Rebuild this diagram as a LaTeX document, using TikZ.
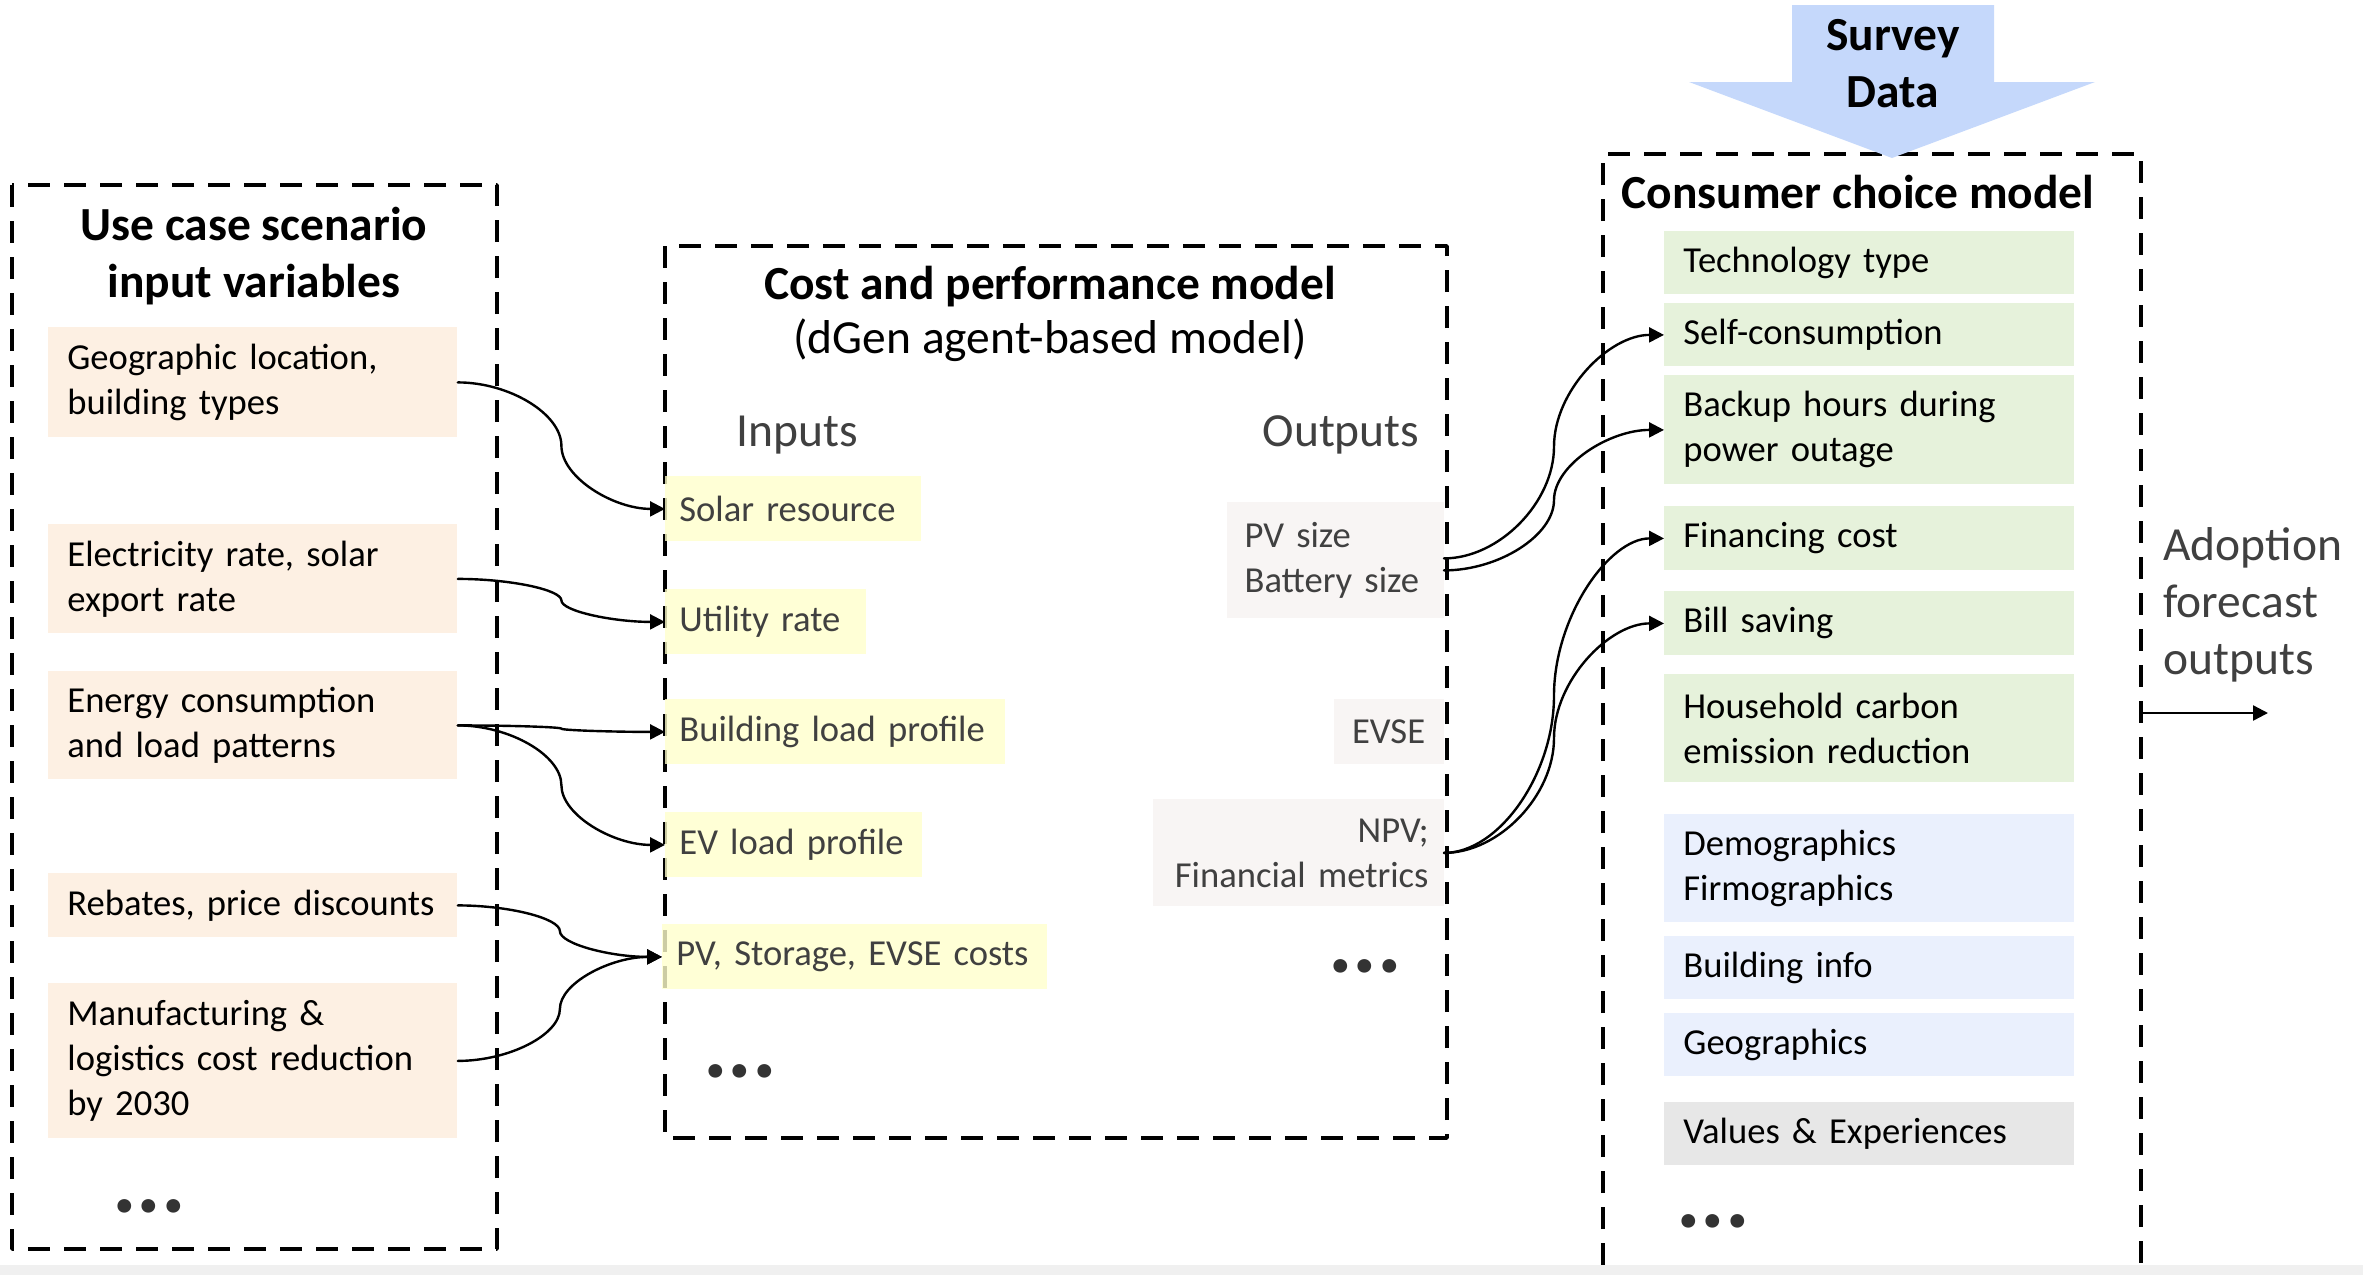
\documentclass[tikz,border=0pt]{standalone}
\usepackage{fontspec}
\setmainfont{Carlito}
\usepackage{tikz}
\usetikzlibrary{calc}
\usetikzlibrary{arrows.meta}
\definecolor{peach}{RGB}{253,240,227}
\definecolor{lemon}{RGB}{255,255,204}
\definecolor{outgray}{RGB}{248,245,244}
\definecolor{leaf}{RGB}{230,242,219}
\definecolor{sky}{RGB}{234,240,253}
\definecolor{ash}{RGB}{231,231,231}
\definecolor{survblue}{RGB}{197,216,251}
\definecolor{txtgray}{RGB}{64,64,64}
\definecolor{stripgray}{RGB}{240,240,240}
\newcommand{\bodyfont}{\fontsize{18.3}{22.5}\selectfont}
\newcommand{\headfont}{\fontsize{23.75}{28.5}\selectfont}
\newcommand{\dotfont}{\fontsize{46}{46}\selectfont\bfseries}
\tikzset{every node/.style={font=\bodyfont}}
\tikzset{
  dashbox/.style={line width=1.8pt,line cap=butt,dash pattern=on 11pt off 7pt},
  varbox/.style={anchor=north west,fill=peach,inner xsep=9.5pt,inner ysep=0pt,align=left,text width=185.5pt},
  inbox/.style={anchor=north west,fill=lemon,fill opacity=0.8,text opacity=1,text=txtgray,inner xsep=7pt,inner ysep=0pt,align=left,minimum height=32.5pt},
  outbox/.style={anchor=north east,fill=outgray,text=txtgray,inner ysep=0pt},
  choice/.style={anchor=north west,inner xsep=9.5pt,inner ysep=0pt,align=left,text width=186pt},
  head/.style={font=\headfont\bfseries,align=center,inner sep=0pt},
  moredots/.style={font=\dotfont,text=black!80,anchor=base,inner sep=0pt},
  link/.style={->,line width=1.2pt}
}

\begin{document}
\begin{tikzpicture}[line cap=round,line join=round,>={Triangle[length=7.5pt,width=7.5pt]},x=1pt,y=1pt,
  curvy/.style={to path={let \p1=(\tikztostart),\p2=(\tikztotarget) in
    .. controls ({(3*\x1+\x2)/4},\y1) and ({(\x1+\x2)/2},{(3*\y1+\y2)/4}) .. ({(\x1+\x2)/2},{(\y1+\y2)/2})
    .. controls ({(\x1+\x2)/2},{(\y1+3*\y2)/4}) and ({(\x1+3*\x2)/4},\y2) .. (\tikztotarget)}}]
\useasboundingbox (0,0) rectangle (1181.5,-637.5);

% scenario inputs
\draw[dashbox] (6,-92.5) rectangle (248.5,-624.5);
\node[head] (scenhead) at (127,-128.25) {Use case scenario\\input variables};
\node[varbox,minimum height=55pt] (geo) at (24,-163.5) {Geographic location,\\building types};
\node[varbox,minimum height=54.5pt] (elec) at (24,-262) {Electricity rate, solar\\export rate};
\node[varbox,minimum height=54pt] (energy) at (24,-335.5) {Energy consumption\\and load patterns};
\node[varbox,minimum height=32pt] (rebate) at (24,-436.5) {Rebates, price discounts};
\node[varbox,minimum height=77.5pt] (manuf) at (24,-491.5) {Manufacturing \&\\logistics cost reduction\\by 2030};
\node[moredots] (leftdots) at (74.5,-606) {...};

% dGen model
\draw[dashbox] (332.5,-123) rectangle (723.5,-569);
\node[head] (costhead) at (525,-157) {Cost and performance model\\[-1.5pt]\mdseries (dGen agent-based model)};
\node[font=\headfont,text=txtgray] (inlabel) at (398.5,-217.5) {Inputs};
\node[font=\headfont,text=txtgray] (outlabel) at (670.5,-217.5) {Outputs};
\node[inbox,text width=114pt] (solar) at (332.5,-238) {Solar resource};
\node[inbox,text width=86.5pt] (utility) at (332.5,-294.5) {Utility rate};
\node[inbox,text width=156pt] (bload) at (332.5,-349.5) {Building load profile};
\node[inbox,text width=114.5pt] (evload) at (332.5,-406) {EV load profile};
\node[inbox,text width=178.5pt] (costs) at (331,-462) {PV, Storage, EVSE costs};
\node[moredots] (indots) at (370,-538.5) {...};
\node[outbox,align=left,inner xsep=9pt,text width=90.5pt,minimum height=58pt] (sizes) at (722,-251) {PV size\\Battery size};
\node[outbox,minimum width=55pt,minimum height=32.5pt] (evse) at (722,-349.5) {EVSE};
\node[outbox,align=right,inner xsep=7.5pt,text width=130.5pt,minimum height=53.5pt] (npv) at (722,-399.5) {NPV;\hspace*{8pt}\\Financial metrics};
\node[moredots] (outdots) at (682.5,-486) {...};

% consumer choice
\draw[dashbox] (801.5,-632.5) -- (801.5,-77) -- (1070.5,-77) -- (1070.5,-632.5);
\node[head] (choicehead) at (929,-96) {Consumer choice model};
\node[choice,fill=leaf,minimum height=31.5pt] (tech) at (832,-115.5) {Technology type};
\node[choice,fill=leaf,minimum height=31.5pt] (selfcons) at (832,-151.5) {Self-consumption};
\node[choice,fill=leaf,minimum height=54.5pt] (backup) at (832,-187.5) {Backup hours during\\power outage};
\node[choice,fill=leaf,minimum height=32pt] (fincost) at (832,-253) {Financing cost};
\node[choice,fill=leaf,minimum height=32pt] (bill) at (832,-295.5) {Bill saving};
\node[choice,fill=leaf,minimum height=54pt] (carbon) at (832,-337) {Household carbon\\emission reduction};
\node[choice,fill=sky,minimum height=54pt] (demo) at (832,-407) {Demographics\\Firmographics};
\node[choice,fill=sky,minimum height=31.5pt] (binfo) at (832,-468) {Building info};
\node[choice,fill=sky,minimum height=31.5pt] (geog) at (832,-506.5) {Geographics};
\node[choice,fill=ash,minimum height=31.5pt] (values) at (832,-551) {Values \& Experiences};
\node[moredots] (rightdots) at (856.5,-613.5) {...};

% survey arrow
\fill[survblue] (896,-2.5) -- (997,-2.5) -- (997,-41) -- (1047.5,-41) -- (946,-79) -- (844.5,-41) -- (896,-41) -- cycle;
\node[head] (survey) at (946.5,-32) {Survey\\Data};

% outputs
\node[font=\headfont,text=txtgray,align=left,anchor=west,inner sep=0pt] (adopt) at (1081.5,-302.5) {Adoption\\forecast\\outputs};
\coordinate (outfrom) at (1070.5,-356.5);
\coordinate (outto) at (1134,-356.5);
\draw[link] (outfrom) -- (outto);

% connectors
\draw[link] (geo.east) to[curvy] (solar.west);
\draw[link] (elec.east) to[curvy] (utility.west);
\draw[link] (energy.east) to[curvy] (bload.west);
\draw[link] (energy.east) to[curvy] (evload.west);
\draw[link] (rebate.east) to[curvy] (costs.west);
\draw[link] (manuf.east) to[curvy] (costs.west);
\draw[link] ([yshift=1pt]sizes.east) to[curvy] (selfcons.west);
\draw[link] ([yshift=-5pt]sizes.east) to[curvy] (backup.west);
\draw[link] (npv.east) to[curvy] (fincost.west);
\draw[link] (npv.east) to[curvy] (bill.west);

\fill[stripgray] (0,-632.5) rectangle (1181.5,-637.5);
\end{tikzpicture}
\end{document}
